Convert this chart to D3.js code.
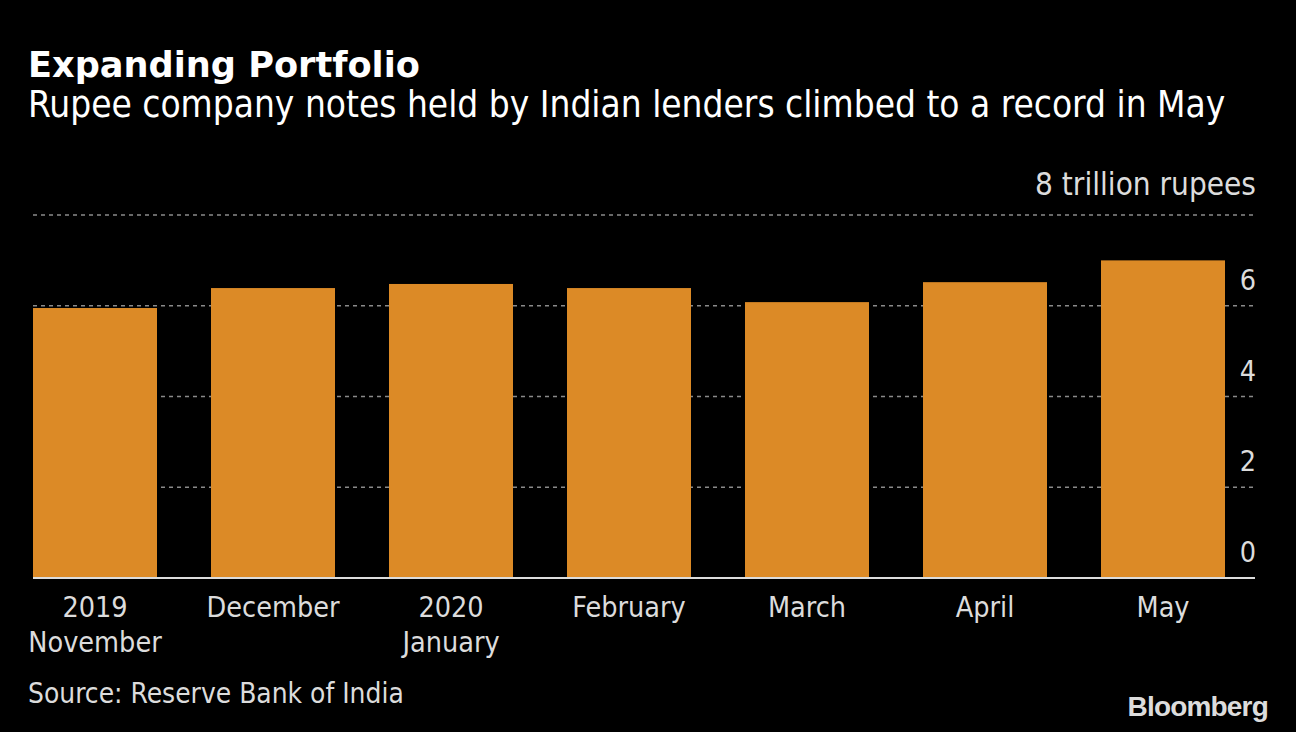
<!DOCTYPE html>
<html><head><meta charset="utf-8">
<script src="https://cdn.jsdelivr.net/npm/d3@7"></script>
<style>body{margin:0;background:#000}svg{display:block}</style>
</head><body>
<svg id="c" width="1296" height="732"></svg>
<script>
const categories = ["November","December","January","February","March","April","May"];
const yearLabels = ["2019","","2020","","","",""];
const values = [5.95, 6.39, 6.48, 6.39, 6.08, 6.52, 7.0];
const yTicks = [0, 2, 4, 6, 8];
const title = "Expanding Portfolio";
const subtitle = "Rupee company notes held by Indian lenders climbed to a record in May";
const unitLabel = "8 trillion rupees";
const source = "Source: Reserve Bank of India";

const svg = d3.select("#c");
svg.append("rect").attr("width",1296).attr("height",732).attr("fill","#000");
const FONT = "DejaVu Sans Condensed";
const txt = "#dcdcdc";

function fitSize(str, fs, w, weight){
  const t = svg.append("text").attr("font-family",FONT).attr("font-size",fs)
    .attr("font-weight",weight||"normal").text(str);
  const cur = t.node().getComputedTextLength(); t.remove();
  return fs * w / cur;
}
function fit(sel, w){
  const n = sel.node(); const cur = n.getComputedTextLength();
  const fs = parseFloat(sel.attr("font-size"));
  sel.attr("font-size", fs * w / cur);
}

const x = d3.scaleBand().domain(categories).range([33,1225]).paddingInner(54/178).paddingOuter(0);
const y = d3.scaleLinear().domain([0,8]).range([578,215]);

// gridlines
svg.append("g").selectAll("line").data(yTicks.filter(d=>d>0)).join("line")
  .attr("x1",33).attr("x2",1255).attr("y1",d=>y(d)).attr("y2",d=>y(d))
  .attr("stroke","#8a8a8a").attr("stroke-width",1.5).attr("stroke-dasharray","4,4");

// bars
svg.append("g").selectAll("rect").data(values).join("rect")
  .attr("x",(d,i)=>x(categories[i])).attr("width",x.bandwidth())
  .attr("y",d=>y(d)).attr("height",d=>y(0)-y(d)).attr("fill","#dc8a26");

// baseline
svg.append("line").attr("x1",33).attr("x2",1255).attr("y1",y(0)).attr("y2",y(0))
  .attr("stroke","#dcdcdc").attr("stroke-width",2);

const labFs = fitSize("December", 26, 133);

// y tick labels
svg.append("g").selectAll("text").data(yTicks.filter(d=>d<8)).join("text")
  .attr("x",1256).attr("y",d=>y(d)-16).attr("text-anchor","end")
  .attr("font-family",FONT).attr("font-size",labFs).attr("fill",txt).text(d=>d);
svg.append("text").attr("x",1256).attr("y",y(8)-20).attr("text-anchor","end")
  .attr("font-family",FONT).attr("font-size",26).attr("fill",txt).text(unitLabel)
  .call(s=>fit(s,221));

// x labels
const xl = svg.append("g").selectAll("g").data(categories).join("g")
  .attr("transform",d=>`translate(${x(d)+x.bandwidth()/2},0)`);
xl.append("text").attr("y",d=>{const i=categories.indexOf(d);return yearLabels[i]?652:617;})
  .attr("text-anchor","middle").attr("font-family",FONT).attr("font-size",labFs).attr("fill",txt).text(d=>d);
xl.append("text").attr("y",617).attr("text-anchor","middle").attr("font-family",FONT).attr("font-size",labFs)
  .attr("fill",txt).text((d,i)=>yearLabels[i]);

// titles
svg.append("text").attr("x",28).attr("y",77).attr("font-family","DejaVu Sans").attr("font-weight","bold")
  .attr("font-size",34).attr("fill","#fff").text(title).call(s=>fit(s,392));
svg.append("text").attr("x",28).attr("y",117).attr("font-family",FONT)
  .attr("font-size",30).attr("fill","#fff").text(subtitle).call(s=>fit(s,1198));
svg.append("text").attr("x",28).attr("y",703).attr("font-family",FONT)
  .attr("font-size",25).attr("fill",txt).text(source).call(s=>fit(s,376));
svg.append("text").attr("x",1268).attr("y",716).attr("text-anchor","end").attr("font-family","Liberation Sans")
  .attr("font-weight","bold").attr("font-size",26).attr("letter-spacing",-0.8).attr("fill","#dcdcdc").text("Bloomberg")
  .call(s=>fit(s,140));
</script>
</body></html>
